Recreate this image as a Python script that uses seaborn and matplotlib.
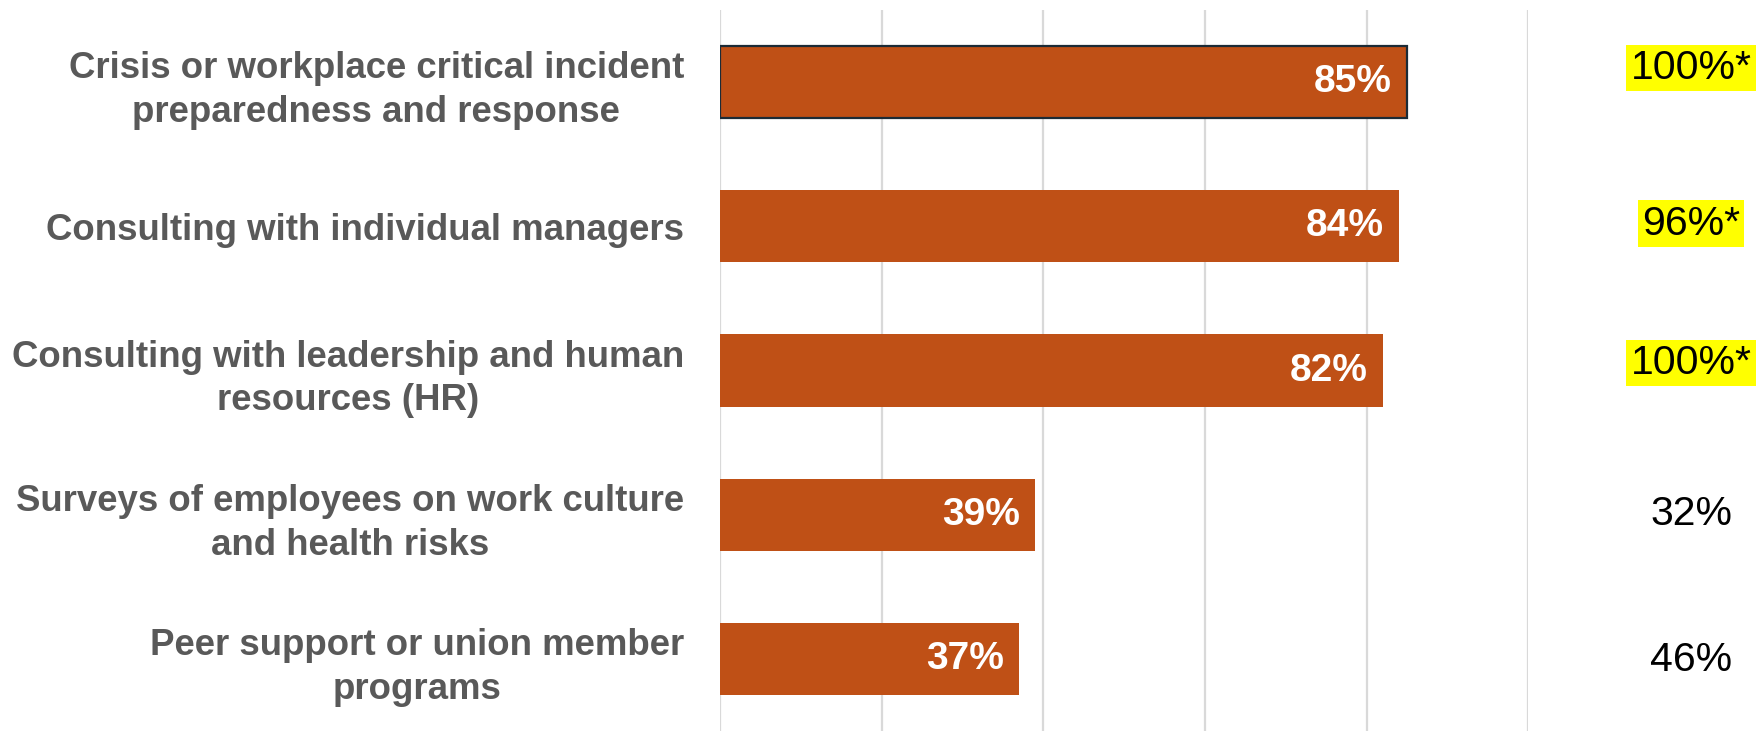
import matplotlib
matplotlib.use("Agg")
import matplotlib.pyplot as plt
import seaborn as sns
import pandas as pd

# Services and the share of organisations offering each one
services = [
    "Crisis or workplace critical incident\npreparedness and response",
    "Consulting with individual managers",
    "Consulting with leadership and human\nresources (HR)",
    "Surveys of employees on work culture\nand health risks",
    "Peer support or union member\nprograms",
]
shares = [0.85, 0.84, 0.82, 0.39, 0.37]

# Comparison figures printed in the right-hand column
comparison_labels = ["100%*", "96%*", "100%*", "32%", "46%"]
comparison_highlight = [True, True, True, False, False]

# Small vertical nudges for the comparison column (category units)
comparison_nudge = [-0.10, -0.019, -0.05, -0.008, 0.005]

x_ticks = [0.0, 0.2, 0.4, 0.6, 0.8, 1.0]

BAR = "#BF5016"
GREY_TEXT = "#595959"
GRID = "#D9D9D9"

sns.set_theme(style="white")
plt.rcParams["font.family"] = ["Liberation Sans", "DejaVu Sans"]

df = pd.DataFrame({"service": services, "share": shares})

W, H, DPI = 1765, 731, 100
fig = plt.figure(figsize=(W / DPI, H / DPI), dpi=DPI)
ax_left = 720 / W
ax_right = 1528.5 / W
ax_top = 1 - 10 / H
ax = fig.add_axes([ax_left, 0.0, ax_right - ax_left, ax_top])

sns.barplot(data=df, x="share", y="service", orient="h", color=BAR,
            width=0.5, saturation=1, ax=ax, zorder=3)

# First bar carries a dark outline
first = ax.patches[0]
first.set_edgecolor("#1C2B36")
first.set_linewidth(1.6)
for p in ax.patches[1:]:
    p.set_edgecolor("none")

ax.set_xlim(0, 1.0)
ax.set_ylim(4.5, -0.5)
ax.set_xticks(x_ticks)
ax.xaxis.grid(True, color=GRID, linewidth=1.6, zorder=0)
ax.yaxis.grid(False)
ax.set_axisbelow(True)
ax.tick_params(axis="x", bottom=False, labelbottom=False)
ax.tick_params(axis="y", left=False, pad=20)
ax.set_xlabel("")
ax.set_ylabel("")
for s in ax.spines.values():
    s.set_visible(False)

for lbl in ax.get_yticklabels():
    lbl.set_fontsize(26.4)
    lbl.set_fontweight("bold")
    lbl.set_color(GREY_TEXT)
    lbl.set_multialignment("center")
    lbl.set_linespacing(1.33)

# Value labels inside the bar ends
for i, v in enumerate(shares):
    ax.annotate(f"{round(v * 100)}%", xy=(v, i), xytext=(-11, 0),
                textcoords="offset points", ha="right", va="center",
                fontsize=28, fontweight="bold", color="white", zorder=4)

# Comparison column to the right of the plot area
trans = ax.get_yaxis_transform()
x_col = (1691 / W - ax_left) / (ax_right - ax_left)
for i, (txt, hl) in enumerate(zip(comparison_labels, comparison_highlight)):
    kw = {}
    if hl:
        kw["bbox"] = dict(boxstyle="square,pad=0.1", facecolor="#FFFF00",
                          edgecolor="none")
    ax.text(x_col, i + comparison_nudge[i], txt, transform=trans,
            ha="center", va="center", fontsize=29.5, color="black",
            clip_on=False, **kw)

fig.savefig("out.png", dpi=DPI)
